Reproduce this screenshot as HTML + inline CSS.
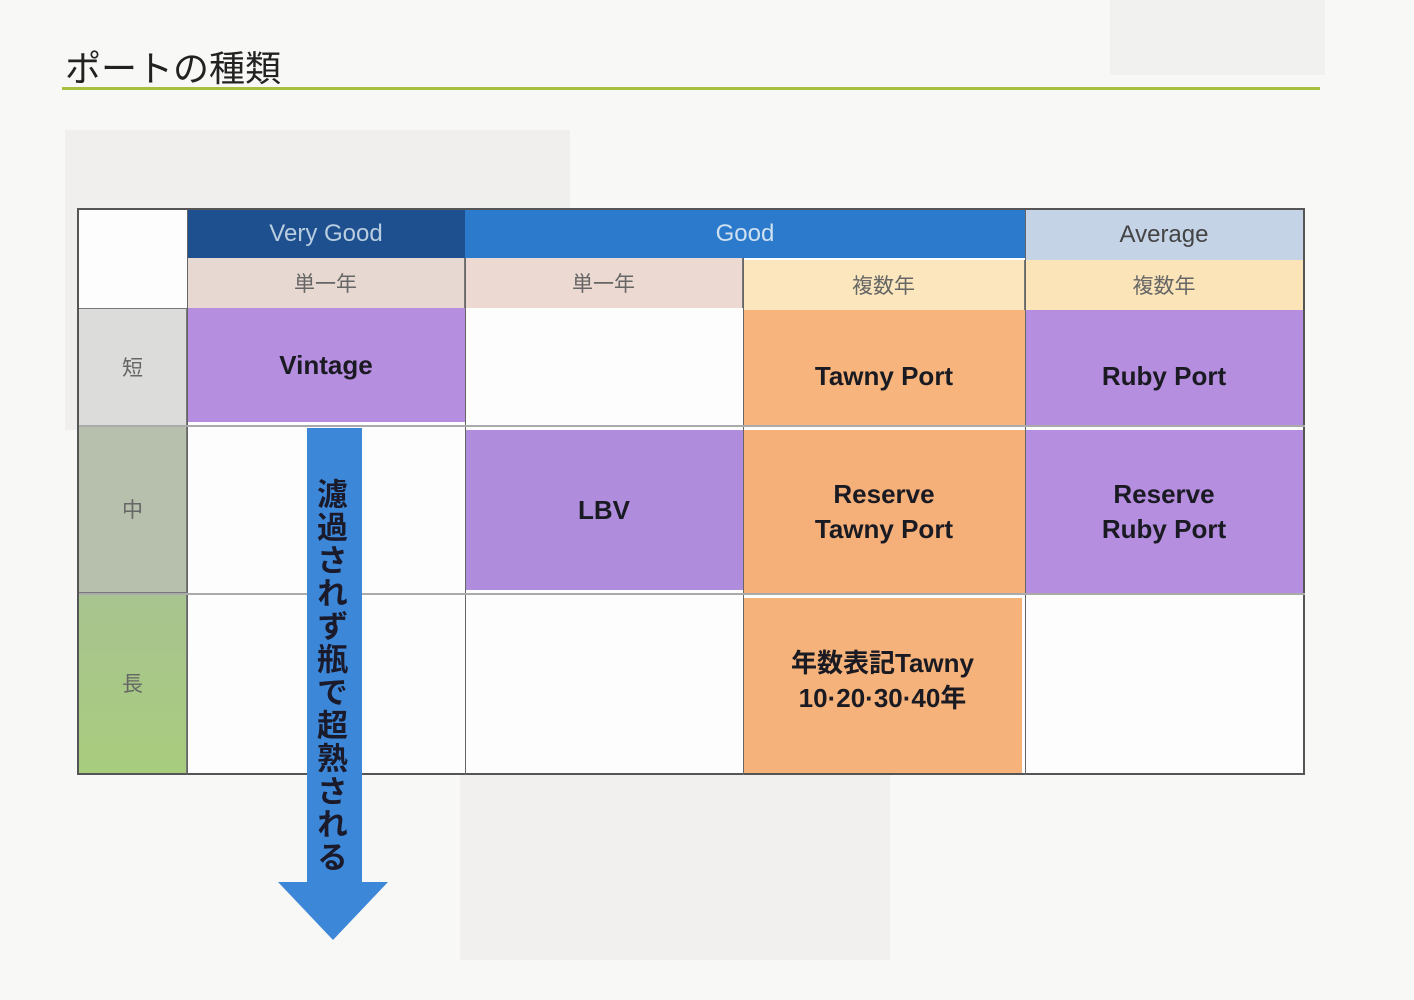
<!DOCTYPE html>
<html><head><meta charset="utf-8"><style>
body{margin:0;width:1414px;height:1000px;background:#f8f8f6;position:relative;overflow:hidden;font-family:"Liberation Sans","Noto Sans CJK JP",sans-serif}
.a{position:absolute;box-sizing:border-box;display:flex;align-items:center;justify-content:center;text-align:center}
.b{font-weight:bold;font-size:26px;line-height:35px;color:#1a1a22}
.s{font-size:21px;color:#666}
.h{font-size:24px}
</style></head><body>
<div class="a" style="left:65px;top:130px;width:505px;height:300px;background:#f0efed"></div>
<div class="a" style="left:460px;top:590px;width:430px;height:370px;background:#f1f0ee"></div>
<div class="a" style="left:1110px;top:0;width:215px;height:75px;background:#f1f1ef"></div>
<div style="position:absolute;left:65px;top:40px;font-size:36px;color:#222">ポートの種類</div>
<div style="position:absolute;left:62px;top:87px;width:1258px;height:3px;background:#a8c040"></div>

<div class="a" style="left:77px;top:208px;width:1228px;height:567px;background:#fdfdfd;border:2px solid #555"></div>
<div class="a h" style="left:187px;top:210px;width:278px;height:48px;background:#1e4f8e;color:#b8cde0">Very Good</div>
<div class="a h" style="left:465px;top:210px;width:560px;height:48px;background:#2b7acb;color:#cfe0f0">Good</div>
<div class="a h" style="left:1025px;top:210px;width:278px;height:50px;background:#c4d4e6;color:#444">Average</div>
<div class="a s" style="left:187px;top:258px;width:278px;height:50px;background:#e8d8d2;border-right:1px solid #777">単一年</div>
<div class="a s" style="left:465px;top:258px;width:278px;height:50px;background:#ecdad2;border-right:1px solid #777">単一年</div>
<div class="a s" style="left:743px;top:260px;width:282px;height:50px;background:#fbe6bd;border-right:1px solid #777">複数年</div>
<div class="a s" style="left:1025px;top:260px;width:278px;height:50px;background:#fbe4b8">複数年</div>

<div class="a s" style="left:79px;top:308px;width:108px;height:117px;background:#dcdcda;border-top:1px solid #777;border-right:1px solid #777">短</div>
<div class="a s" style="left:79px;top:425px;width:108px;height:167px;background:#b6c0ac;border-top:1px solid #777;border-right:1px solid #777">中</div>
<div class="a s" style="left:79px;top:592px;width:108px;height:181px;background:linear-gradient(#a8c490,#a8cc7e);border-top:1px solid #777;border-right:1px solid #777">長</div>

<div class="a b" style="left:187px;top:308px;width:278px;height:114px;background:#b68ee0">Vintage</div>
<div class="a b" style="left:743px;top:310px;width:282px;height:117px;background:#f7b47c;padding-top:16px">Tawny Port</div>
<div class="a b" style="left:1025px;top:310px;width:278px;height:117px;background:#b68ee0;padding-top:16px">Ruby Port</div>
<div class="a b" style="left:465px;top:430px;width:278px;height:160px;background:#b08cdc">LBV</div>
<div class="a b" style="left:743px;top:430px;width:282px;height:163px;background:#f5b07a">Reserve<br>Tawny Port</div>
<div class="a b" style="left:1025px;top:430px;width:278px;height:163px;background:#b68ee0">Reserve<br>Ruby Port</div>
<div class="a b" style="left:743px;top:598px;width:279px;height:175px;background:#f5b27a;padding-bottom:10px">年数表記Tawny<br>10·20·30·40年</div>

<div style="position:absolute;left:187px;top:210px;width:1px;height:565px;background:#666"></div>
<div style="position:absolute;left:465px;top:258px;width:1px;height:517px;background:#666"></div>
<div style="position:absolute;left:743px;top:258px;width:1px;height:517px;background:#666"></div>
<div style="position:absolute;left:1025px;top:210px;width:1px;height:565px;background:#666"></div>
<div style="position:absolute;left:79px;top:425px;width:1226px;height:2px;background:#aaa"></div>
<div style="position:absolute;left:79px;top:593px;width:1226px;height:2px;background:#aaa"></div>

<svg style="position:absolute;left:0;top:0" width="1414" height="1000"><polygon points="307,428 362,428 362,882 388,882 333,940 278,882 307,882" fill="#3d87d9"/></svg>
<div style="position:absolute;left:307px;top:478px;width:44px;height:400px;writing-mode:vertical-rl;font-size:31px;line-height:44px;letter-spacing:2px;font-weight:bold;color:#1a1a2a;white-space:nowrap">濾過されず瓶で超熟される</div>
</body></html>
